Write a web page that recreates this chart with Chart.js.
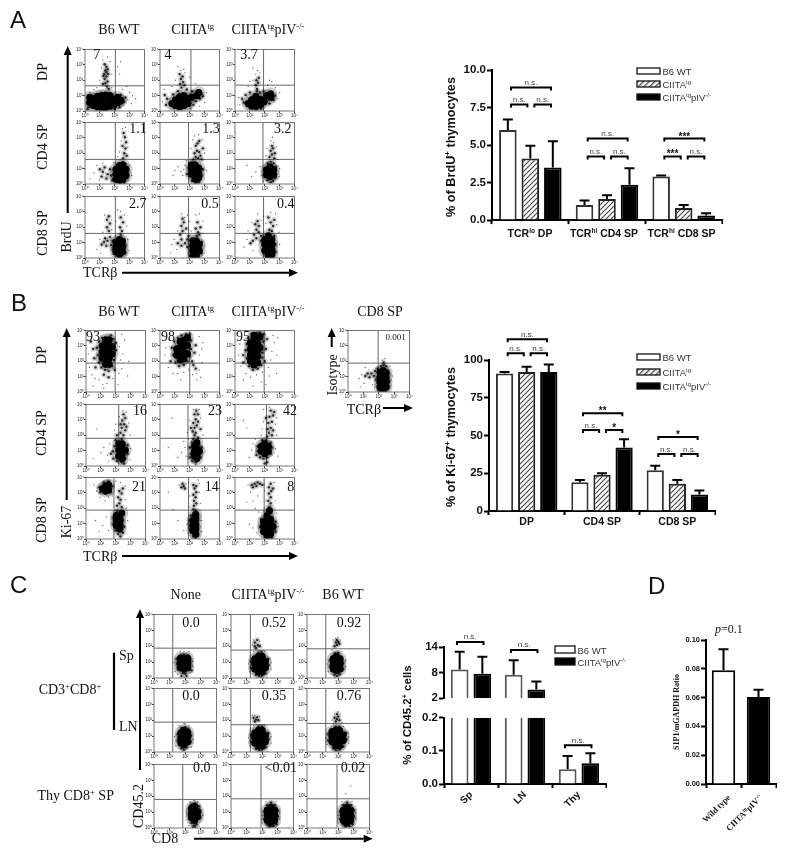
<!DOCTYPE html>
<html>
<head>
<meta charset="utf-8">
<script src="https://cdn.jsdelivr.net/npm/chart.js@4"></script>
<style>
html,body{margin:0;padding:0;background:#fff}
#fig{position:relative;width:786px;height:855px;overflow:hidden;filter:blur(.5px)}
#fig canvas{position:absolute}
#fig svg{position:absolute;left:0;top:0}
</style>
</head>
<body>
<div id="fig"></div>
<script>
// ---- bar chart values ----
const barSeries = ['B6 WT', 'CIITA{tg}', 'CIITA{tg}pIV{-/-}'];

const brduGroups = ['TCRlo DP', 'TCRhi CD4 SP', 'TCRhi CD8 SP'];
const brduWt = [6.0, 1.0, 2.9];
const brduTg = [4.1, 1.4, 0.8];
const brduKo = [3.5, 2.35, 0.3];
const brduWtErr = [6.7, 1.3, 2.97];
const brduTgErr = [4.95, 1.65, 1.0];
const brduKoErr = [5.25, 3.45, 0.45];
const brduTicks = [0, 2.5, 5, 7.5, 10];
const brduBrackets = [[0,'T',8.83,'n.s.'],[0,'L',7.7,'n.s.'],[0,'R',7.7,'n.s.'],
  [1,'T',5.43,'n.s.'],[1,'L',4.24,'n.s.'],[1,'R',4.24,'n.s.'],
  [2,'T',5.43,'***'],[2,'L',4.24,'***'],[2,'R',4.24,'n.s.']];

const kiGroups = ['DP', 'CD4 SP', 'CD8 SP'];
const kiWt = [91, 19, 27];
const kiTg = [92, 24, 18];
const kiKo = [92, 42, 11];
const kiWtErr = [92, 20.5, 30];
const kiTgErr = [95.5, 25, 20.5];
const kiKoErr = [97, 47.5, 13.5];
const kiTicks = [0, 25, 50, 75, 100];
const kiBrackets = [[0,'T',113.7,'n.s.'],[0,'L',104.4,'n.s.'],[0,'R',104.4,'n.s.'],
  [1,'T',64.7,'**'],[1,'L',53.6,'n.s.'],[1,'R',53.6,'*'],
  [2,'T',49,'*'],[2,'L',37.7,'n.s.'],[2,'R',37.7,'n.s.']];

const cdGroups = ['Sp', 'LN', 'Thy'];
const cdWt = [8.7, 7.5, 0.045];
const cdKo = [7.7, 4.0, 0.063];
const cdWtErr = [12.9, 10.9, 0.085];
const cdKoErr = [11.7, 5.9, 0.093];
const cdTicksHigh = [2, 8, 14];
const cdTicksLow = [0, 0.1, 0.2];
const cdBracketsHigh = [[0,'P',15.2,'n.s.'],[1,'P',13.3,'n.s.']];
const cdBracketsLow = [[2,'P',0.117,'n.s.']];

const s1pGroups = ['Wild type', 'CIITA{tg}pIV{-/-}'];
const s1pRatio = [0.079, 0.0605];
const s1pErr = [0.0935, 0.0655];
const s1pTicks = [0, 0.02, 0.04, 0.06, 0.08, 0.1];

// ---- flow plot events, estimated by eye on a 0-100 channel grid ----
const flowTicks = ['10⁰', '10¹', '10²', '10³', '10⁴'];

const a1Core=[[8,14],[8,22],[14,9],[14,20],[21,7],[21,15],[21,24],[28,6],[28,15],[28,25],[35,6],[35,15],[35,26],[42,8],[42,17],[42,25],[49,10],[49,19],[55,14],[55,22],[60,17]];
const a1Mid=[[33,52],[36,56],[32,60],[36,63],[39,60],[34,66],[38,68],[31,57],[36,72],[33,76],[38,48],[34,45],[37,40],[40,36],[30,44],[3,12],[5,24],[6,6],[62,12],[64,20],[66,15],[60,26],[68,22],[58,6],[4,3],[50,3],[32,2]];
const a1Dust=[[30,83],[38,88],[42,80],[28,70],[25,50],[45,60],[55,72],[60,80],[58,60],[70,40],[75,30],[72,18],[80,25],[78,12],[85,20],[63,35],[20,38],[15,35],[8,30],[45,38]];
const a2Core=[[20,12],[26,18],[26,9],[33,7],[33,15],[33,23],[40,9],[40,17],[40,25],[47,12],[47,20],[53,22],[62,25],[65,30]];
const a2Mid=[[36,38],[34,44],[39,47],[35,52],[38,56],[33,60],[41,42],[45,35],[10,10],[12,20],[8,26],[56,10],[60,16],[67,20],[70,28],[72,24],[30,32],[22,27],[54,32]];
const a2Dust=[[4,15],[7,35],[35,66],[40,68],[30,72],[42,62],[75,14],[78,30],[50,55],[60,45],[20,40],[26,50],[50,4],[30,2],[66,8]];
const a3Core=[[22,12],[28,8],[28,18],[35,8],[35,16],[35,24],[42,10],[42,19],[49,15],[53,25],[60,28],[60,22]];
const a3Mid=[[37,36],[35,42],[39,46],[36,50],[40,54],[37,32],[42,30],[15,14],[12,20],[18,26],[65,18],[67,25],[58,12],[25,30],[48,32],[44,4],[36,3]];
const a3Dust=[[35,60],[38,66],[42,62],[30,70],[72,20],[75,30],[8,10],[6,22],[55,42],[58,50],[25,48],[48,8],[30,50],[22,40],[68,38],[62,48]];
const a4Core=[[52,8],[52,16],[52,24],[58,6],[58,14],[58,22],[58,30],[64,8],[64,16],[64,24],[64,31],[69,14],[69,24]];
const a4Mid=[[28,12],[30,20],[33,27],[38,16],[42,24],[36,9],[25,24],[44,14],[46,6],[64,42],[66,50],[68,58],[63,62],[69,68],[67,76],[65,83],[70,46],[60,2],[66,2]];
const a4Dust=[[15,18],[20,30],[30,34],[63,90],[68,92],[72,60],[61,70],[75,30],[78,14],[8,8],[55,45],[48,35],[24,6],[72,6],[58,52]];
const a5Core=[[53,16],[53,24],[53,31],[59,8],[59,16],[59,24],[59,31],[65,10],[65,18],[65,26]];
const a5Mid=[[54,5],[60,2],[65,3],[56,40],[60,44],[64,42],[68,46],[58,50],[62,54],[66,52],[70,40],[72,58],[60,62],[63,66],[66,70],[70,14],[72,24],[48,26],[46,16]];
const a5Dust=[[25,22],[30,28],[35,20],[38,14],[42,30],[40,24],[58,78],[65,80],[71,72],[75,50],[78,22],[55,72],[52,58],[44,38],[22,14]];
const a6Core=[[53,15],[53,23],[59,12],[59,20],[59,28],[65,15],[65,23]];
const a6Mid=[[55,6],[60,3],[64,5],[50,12],[50,26],[68,10],[69,28],[55,34],[60,36],[65,34],[58,44],[62,48],[66,42],[60,54],[64,58],[67,50],[62,62]];
const a6Dust=[[35,20],[28,12],[42,28],[60,70],[65,68],[63,76],[70,60],[75,25],[74,12],[52,46],[45,14],[54,58],[20,30],[48,4],[72,40]];
const a7Core=[[52,10],[52,18],[52,26],[58,6],[58,14],[58,22],[58,30],[63,10],[63,18],[63,27]];
const a7Mid=[[56,2],[60,1],[68,8],[68,20],[47,14],[46,28],[44,21],[28,22],[32,26],[36,20],[38,28],[34,32],[42,34],[40,44],[37,50],[42,56],[37,62],[40,68],[60,38],[62,44],[59,50],[64,58],[60,66]];
const a7Dust=[[25,30],[30,42],[45,46],[33,70],[45,62],[52,60],[66,70],[60,76],[70,52],[72,30],[74,12],[20,14],[46,6],[26,8],[55,78]];
const a8Core=[[55,4],[55,12],[55,20],[55,28],[61,4],[61,12],[61,20],[61,28],[66,12],[66,22]];
const a8Mid=[[36,30],[34,38],[38,44],[36,52],[40,58],[38,64],[44,48],[30,24],[36,20],[42,24],[46,30],[46,18],[48,36],[62,36],[64,42],[66,38],[60,48],[68,50],[63,58],[70,8],[70,26],[58,1],[64,1]];
const a8Dust=[[28,14],[24,30],[30,44],[42,66],[46,70],[36,72],[60,70],[66,72],[72,40],[75,20],[20,22],[50,60],[52,44],[18,8],[72,60]];
const a9Core=[[50,12],[50,22],[50,30],[56,4],[56,12],[56,20],[56,28],[56,36],[62,6],[62,14],[62,22],[62,30]];
const a9Mid=[[30,28],[36,32],[32,38],[36,46],[40,42],[34,55],[38,60],[40,52],[44,36],[44,28],[26,24],[68,10],[68,22],[66,36],[62,44],[64,52],[58,46],[60,58],[66,62],[56,66],[58,1],[64,1]];
const a9Dust=[[20,30],[22,44],[28,58],[38,72],[44,62],[48,68],[68,72],[60,74],[74,42],[75,22],[15,18],[52,56],[70,54],[46,12],[30,12]];

const b1Core=[[27,55],[27,65],[27,75],[33,45],[33,55],[33,65],[33,75],[33,85],[39,45],[39,55],[39,65],[39,75],[39,85],[44,62],[44,74]];
const b1Mid=[[20,60],[18,72],[22,48],[26,40],[32,36],[38,34],[44,42],[47,52],[22,82],[27,88],[14,55],[16,40],[42,92],[46,86],[50,68],[50,80],[30,28],[38,24],[48,36],[12,70],[8,82]];
const b1Dust=[[4,62],[6,40],[10,28],[15,22],[22,20],[28,12],[35,14],[45,22],[55,30],[60,38],[58,52],[62,62],[56,74],[65,85],[60,94],[72,50],[70,26],[30,6],[12,10],[54,12]];
const b2Core=[[28,60],[28,70],[34,52],[34,62],[34,72],[34,82],[40,54],[40,64],[40,74],[40,84],[46,62],[46,76],[46,88]];
const b2Mid=[[22,60],[20,72],[24,82],[30,88],[26,48],[32,42],[40,44],[46,50],[50,58],[52,70],[52,84],[36,92],[44,94],[50,94],[54,50],[58,64],[60,76],[56,44],[60,38],[18,50]];
const b2Dust=[[10,72],[8,60],[14,40],[22,30],[30,30],[40,32],[48,36],[62,30],[66,36],[68,24],[62,20],[70,48],[66,60],[70,70],[72,80],[66,90],[55,28],[35,20],[15,85],[6,92]];
const b3Core=[[26,50],[26,60],[26,70],[26,80],[32,44],[32,54],[32,64],[32,74],[32,84],[32,92],[38,48],[38,58],[38,68],[38,78],[38,88],[42,72],[42,90]];
const b3Mid=[[20,55],[18,68],[20,78],[22,88],[24,42],[30,36],[38,38],[44,44],[46,56],[46,64],[48,82],[48,94],[36,96],[42,97],[28,95],[14,60],[14,48],[52,70],[54,86],[50,50]];
const b3Dust=[[8,78],[6,60],[10,42],[18,30],[26,24],[36,28],[46,32],[56,40],[60,52],[62,66],[66,80],[64,92],[70,60],[58,26],[70,30],[30,10],[44,16],[14,20],[72,88],[52,12]];
const b4Core=[[55,16],[55,26],[55,36],[61,12],[61,20],[61,28],[61,36],[66,26]];
const b4Mid=[[60,44],[63,50],[58,54],[66,58],[60,62],[64,68],[61,74],[66,78],[63,84],[68,64],[58,68],[45,24],[48,32],[42,20],[46,12],[50,42],[60,6],[64,4],[66,12],[70,20],[70,34],[52,50],[52,8]];
const b4Dust=[[30,30],[36,18],[40,36],[25,22],[62,90],[68,88],[72,70],[56,80],[74,50],[75,28],[74,10],[48,58],[12,12],[18,60],[50,68],[38,8]];
const b5Core=[[58,16],[58,24],[58,32],[62,12],[62,20],[62,28],[62,38],[66,24]];
const b5Mid=[[52,20],[50,30],[54,38],[56,44],[58,50],[55,56],[60,54],[58,62],[62,66],[56,70],[60,76],[64,72],[58,84],[64,84],[61,90],[68,60],[50,14],[54,8],[60,6],[68,14],[70,30],[64,46],[52,62]];
const b5Dust=[[36,22],[42,30],[44,16],[48,44],[50,74],[68,78],[72,50],[72,22],[66,92],[56,92],[30,14],[20,78],[14,30],[46,54],[60,2],[40,40]];
const b6Core=[[44,24],[44,32],[50,20],[50,28],[50,36],[56,24],[56,32]];
const b6Mid=[[38,24],[38,32],[36,18],[42,14],[48,12],[54,14],[60,20],[62,30],[60,38],[52,42],[46,42],[54,48],[57,54],[62,50],[55,60],[60,62],[64,58],[56,70],[62,72],[58,80],[64,82],[60,90],[66,88],[52,78],[50,4],[54,6]];
const b6Dust=[[28,26],[30,36],[34,44],[24,14],[44,50],[46,60],[48,72],[68,68],[70,78],[70,50],[68,28],[72,16],[58,96],[48,92],[20,62],[14,74]];
const b7Core=[[28,82],[33,78],[33,86],[38,80],[38,88],[51,22],[51,30],[51,38],[57,16],[57,24],[57,32],[60,42]];
const b7Mid=[[22,84],[24,76],[42,76],[44,86],[30,92],[38,94],[52,54],[56,58],[60,52],[58,64],[54,68],[60,74],[56,78],[62,82],[52,46],[62,30],[64,20],[50,14],[54,8],[58,4],[62,10],[46,24],[46,34]];
const b7Dust=[[14,88],[18,78],[24,68],[32,62],[38,68],[44,70],[66,64],[68,50],[70,30],[16,30],[28,22],[34,36],[38,14],[22,12],[58,92],[50,94],[66,86]];
const b8Core=[[55,14],[55,22],[55,30],[60,8],[60,16],[60,24],[60,34],[60,40]];
const b8Mid=[[40,86],[38,90],[42,82],[36,84],[56,48],[60,46],[57,54],[61,58],[57,62],[60,68],[56,72],[61,76],[58,82],[61,86],[56,88],[52,20],[50,30],[64,20],[64,30],[56,4],[60,2],[64,6],[52,38]];
const b8Dust=[[32,88],[44,90],[48,92],[66,90],[66,76],[68,58],[50,70],[50,52],[70,30],[70,12],[46,24],[40,14],[30,30],[22,48],[14,76],[64,96]];
const b9Core=[[48,12],[48,20],[48,28],[54,6],[54,14],[54,22],[54,30],[54,38],[60,8],[60,16],[60,24],[60,32],[64,20],[58,46]];
const b9Mid=[[28,88],[33,90],[38,92],[36,86],[42,90],[30,84],[46,88],[58,52],[60,58],[56,62],[60,68],[57,74],[61,78],[57,84],[60,90],[64,82],[52,3],[56,1],[62,2],[42,20],[44,32],[68,12],[68,28]];
const b9Dust=[[22,88],[26,76],[30,62],[34,50],[38,70],[40,44],[66,92],[68,62],[70,42],[30,18],[24,24],[36,10],[72,20],[52,62],[50,78],[20,60]];
const isoCore=[[52,8],[52,16],[52,24],[52,32],[57,3],[57,11],[57,19],[57,27],[57,35],[62,8],[62,16],[62,24],[62,32]];
const isoMid=[[42,26],[38,30],[35,24],[44,34],[46,20],[32,30],[28,26],[48,38],[54,42],[58,44],[62,42],[66,30],[67,18],[66,8],[50,4],[58,48],[54,1],[60,1]];
const isoDust=[[22,28],[18,22],[26,14],[34,36],[40,12],[60,54],[56,52],[68,42],[72,26],[20,8],[44,8],[28,40]];

const c1Core=[[42,16],[42,24],[42,31],[48,14],[48,22],[48,30],[54,16],[54,24],[54,31]];
const c1Mid=[[37,22],[36,30],[38,14],[46,8],[50,7],[44,3],[52,3],[58,20],[58,28],[48,37],[43,36],[54,36],[60,12]];
const c1Dust=[[32,24],[34,10],[62,26],[62,18],[48,42],[42,42],[56,42],[38,6],[58,8],[48,1]];
const c2Core=[[38,14],[38,22],[38,30],[44,10],[44,18],[44,26],[44,34],[50,10],[50,18],[50,26],[50,34],[55,16],[55,26]];
const c2Mid=[[40,5],[45,3],[50,4],[55,7],[32,16],[32,26],[60,20],[60,30],[44,40],[49,41],[40,47],[43,52],[38,56],[42,60],[46,50],[38,50]];
const c2Dust=[[28,22],[30,10],[64,24],[64,14],[54,42],[36,42],[36,60],[46,58],[34,52],[48,1],[58,1]];
const c3Core=[[42,14],[42,22],[42,30],[47,12],[47,20],[47,28],[47,34],[53,14],[53,22],[53,30]];
const c3Mid=[[37,18],[37,28],[44,5],[48,3],[52,6],[58,14],[58,24],[45,39],[50,40],[48,52],[50,57],[46,56],[52,54],[44,50],[48,60]];
const c3Dust=[[32,22],[34,10],[62,18],[62,28],[40,44],[56,42],[42,60],[54,60],[50,64],[46,62],[44,1]];
const c4Core=[[43,14],[43,22],[43,30],[48,12],[48,20],[48,28],[48,34],[54,16],[54,24],[54,31]];
const c4Mid=[[38,18],[38,28],[44,6],[48,4],[52,7],[59,16],[59,26],[44,38],[50,39],[55,36]];
const c4Dust=[[33,24],[35,10],[63,20],[40,42],[56,42],[50,44],[46,1],[60,8],[48,45]];
const c5Core=[[38,14],[38,22],[38,30],[44,10],[44,18],[44,26],[44,34],[50,10],[50,18],[50,26],[50,34],[55,16],[55,26]];
const c5Mid=[[40,5],[45,3],[50,4],[55,7],[32,16],[32,26],[60,20],[60,30],[44,40],[50,40],[40,51],[42,55],[38,48],[44,50],[36,54]];
const c5Dust=[[28,22],[30,10],[64,24],[64,14],[54,42],[36,42],[46,56],[34,58],[48,1],[58,1],[38,58]];
const c6Core=[[40,16],[40,24],[40,32],[46,10],[46,18],[46,26],[46,34],[52,10],[52,18],[52,26],[52,34],[58,18],[58,27]];
const c6Mid=[[34,18],[34,28],[42,6],[46,3],[52,4],[58,8],[63,20],[63,30],[46,40],[52,40],[48,52],[50,56],[46,48],[52,50],[48,60],[44,54]];
const c6Dust=[[30,22],[32,12],[67,24],[67,14],[42,44],[58,40],[44,60],[54,60],[50,63],[56,46],[40,50],[48,1]];
const c7Core=[[60,16],[60,24],[60,31],[65,12],[65,20],[65,28],[65,34],[70,18],[70,26]];
const c7Mid=[[56,20],[56,30],[60,8],[64,4],[68,6],[62,1],[66,1],[74,16],[74,26],[60,37],[66,39],[72,34]];
const c7Dust=[[52,24],[54,14],[78,20],[58,42],[70,41],[72,3],[56,4],[64,43]];
const c8Core=[[58,12],[58,20],[58,28],[64,8],[64,16],[64,24],[64,33],[70,12],[70,20],[70,28]];
const c8Mid=[[53,14],[53,26],[58,6],[62,2],[68,3],[73,6],[75,18],[75,28],[58,36],[64,40],[70,36]];
const c8Dust=[[50,20],[78,14],[78,24],[56,42],[72,42],[60,1],[72,1],[50,8]];
const c9Core=[[58,12],[58,20],[58,28],[64,8],[64,16],[64,24],[64,33],[70,12],[70,20],[70,28]];
const c9Mid=[[53,14],[53,26],[58,6],[62,2],[68,3],[73,6],[75,18],[75,28],[58,36],[64,40],[70,36]];
const c9Dust=[[50,20],[78,14],[78,24],[56,42],[72,42],[60,1],[72,1],[50,8],[62,54],[70,66]];

// gate lines [vertical, horizontal]
const gatesA = [[51,41],[52,42],[48,42],[51,40],[48,40],[47,40],[51,40],[48,40],[48,40]];
const gatesB = [[49,47],[50,47],[49,47],[55,45],[47,45],[53,45],[47,47],[48,47],[49,47]];
const gateIso = [49,47];
const gatesC = [[30,47],[31,44],[30,46],[30,47],[31,43],[30,45],[46,45],[48,46],[48,46]];

// ---- helpers ----
Chart.defaults.animation = false;
Chart.defaults.responsive = false;
const fig = document.getElementById('fig');
const SERIF = '"Liberation Serif"', SANS = '"Liberation Sans"';

function addCanvas(left, top, w, h) {
  const c = document.createElement('canvas');
  c.width = w; c.height = h;
  c.style.left = left + 'px'; c.style.top = top + 'px';
  fig.appendChild(c);
  return c;
}

const frame = {
  id: 'frame',
  afterDatasetsDraw(chart) {
    const a = chart.chartArea, g = chart.ctx;
    g.save();
    g.strokeStyle = '#777'; g.lineWidth = 1;
    g.strokeRect(a.left, a.top, a.right - a.left, a.bottom - a.top);
    g.restore();
  }
};

function flow(left, top, w, h, core, mid, dust, gate) {
  const mx = 10, mb = 8, pad = 3;
  const cv = addCanvas(left - mx, top - pad, w + mx + pad, h + mb + pad);
  const axis = {
    type: 'linear', min: 0, max: 100,
    grid: { drawOnChartArea: false, tickLength: 2, tickColor: '#333', tickWidth: 1 },
    border: { display: false },
    ticks: { stepSize: 25, padding: 0, autoSkip: false, maxRotation: 0, color: '#222',
      font: { size: 4.5, family: SANS }, callback: v => flowTicks[v / 25] }
  };
  new Chart(cv, {
    type: 'scatter',
    data: { datasets: [
      { data: dust, pointRadius: .7, backgroundColor: 'rgba(0,0,0,.6)', borderWidth: 0 },
      { data: mid, pointRadius: 1.2, backgroundColor: 'rgba(0,0,0,.8)', borderWidth: 0 },
      { data: core, pointRadius: 3.6, backgroundColor: '#000', borderWidth: 0 },
      { data: core, pointRadius: 6.5, backgroundColor: 'rgba(0,0,0,.2)', borderWidth: 0 },
      { data: mid, pointRadius: 2.8, backgroundColor: 'rgba(0,0,0,.16)', borderWidth: 0 },
      { data: [[gate[0], 0], [gate[0], 100]], showLine: true, pointRadius: 0, borderColor: '#666', borderWidth: 1 },
      { data: [[0, gate[1]], [100, gate[1]]], showLine: true, pointRadius: 0, borderColor: '#666', borderWidth: 1 }
    ] },
    options: {
      layout: { padding: { top: pad, right: pad } },
      plugins: { legend: { display: false }, tooltip: { enabled: false } },
      scales: {
        // drop the extra room the axes ask for around their end labels
        x: { ...axis, afterFit: s => { s.height = mb; s.paddingLeft = 0; s.paddingRight = 0; } },
        y: { ...axis, afterFit: s => { s.width = mx; s.paddingTop = 0; s.paddingBottom = 0; } }
      }
    },
    plugins: [frame]
  });
}

function makeHatch() {
  const p = document.createElement('canvas');
  p.width = 5; p.height = 5;
  const g = p.getContext('2d');
  g.fillStyle = '#fff'; g.fillRect(0, 0, 5, 5);
  g.strokeStyle = '#444'; g.lineWidth = 1.1;
  g.beginPath();
  g.moveTo(-1, 6); g.lineTo(6, -1);
  g.moveTo(-1, 1); g.lineTo(1, -1);
  g.moveTo(4, 6); g.lineTo(6, 4);
  g.stroke();
  return g.createPattern(p, 'repeat');
}
const hatch = makeHatch();

const errorBars = {
  id: 'errorBars',
  afterDatasetsDraw(chart) {
    const g = chart.ctx, y = chart.scales.y;
    g.save();
    g.strokeStyle = '#000'; g.lineWidth = 2;
    chart.data.datasets.forEach((ds, i) => {
      chart.getDatasetMeta(i).data.forEach((bar, k) => {
        const e = ds.errTop[k], v = ds.data[k];
        if (v == null || e > y.max || e < y.min) return;
        const top = y.getPixelForValue(e);
        const base = y.getPixelForValue(Math.min(v, y.max));
        g.beginPath();
        g.moveTo(bar.x, base); g.lineTo(bar.x, top);
        g.moveTo(bar.x - 5, top); g.lineTo(bar.x + 5, top);
        g.stroke();
      });
    });
    g.restore();
  }
};

const SPANS = { L: [.14, .87], R: [1.18, 1.92], T: [.14, 1.92], P: [-.12, 1.05] };
function bracketPlugin(list) {
  return {
    id: 'brackets',
    afterDraw(chart) {
      const g = chart.ctx, m0 = chart.getDatasetMeta(0), m1 = chart.getDatasetMeta(1);
      g.save();
      g.strokeStyle = '#000'; g.lineWidth = 2; g.textAlign = 'center';
      list.forEach(([grp, span, val, txt]) => {
        const c0 = m0.data[grp].x, s = m1.data[grp].x - c0;
        const x1 = c0 + SPANS[span][0] * s, x2 = c0 + SPANS[span][1] * s;
        const y = chart.scales.y.getPixelForValue(val);
        g.beginPath();
        g.moveTo(x1, y + 3); g.lineTo(x1, y); g.lineTo(x2, y); g.lineTo(x2, y + 3);
        g.stroke();
        const stars = txt.includes('*');
        g.fillStyle = stars ? '#111' : '#444';
        g.font = (stars ? 'bold 10px ' : '8px ') + SANS;
        g.fillText(txt, (x1 + x2) / 2, stars ? y + 1 : y - 2.5);
      });
      g.restore();
    }
  };
}

function barChart(o) {
  const cv = addCanvas(o.axisX - o.mLeft, o.top - o.pad, o.right - o.axisX + o.mLeft + 1, o.bottom - o.top + o.pad + o.mBottom + 1);
  const plugins = [errorBars];
  if (o.brackets) plugins.push(bracketPlugin(o.brackets));
  new Chart(cv, {
    type: 'bar',
    data: { labels: o.labels, datasets: o.datasets.map(d => ({
      borderColor: '#000', borderWidth: 2, borderSkipped: 'bottom',
      categoryPercentage: o.cat, barPercentage: o.bar, ...d })) },
    options: {
      layout: { padding: { top: o.pad, right: 1, bottom: 1 } },
      plugins: { legend: { display: false }, tooltip: { enabled: false } },
      scales: {
        x: {
          display: o.xDisplay !== false,
          grid: { drawOnChartArea: false, tickLength: 4, tickWidth: 2, tickColor: '#000' },
          border: { width: 2, color: '#000' },
          ticks: { display: !!o.xFont, color: '#111', font: o.xFont, padding: 1,
            minRotation: o.xRot || 0, maxRotation: o.xRot || 0 },
          afterFit: s => { s.height = o.mBottom; }
        },
        y: {
          min: o.min, max: o.max,
          grid: { drawOnChartArea: false, tickLength: 5, tickWidth: 2, tickColor: '#000' },
          border: { width: 2, color: '#000' },
          afterBuildTicks: s => { s.ticks = o.ticks.map(value => ({ value })); },
          ticks: { color: '#111', padding: 1, font: o.yFont, callback: o.fmt },
          afterFit: s => { s.width = o.mLeft; }
        }
      }
    },
    plugins
  });
}

// ---- flow grids ----
const colsA = [85, 160, 235], rowsA = [46, 119, 193];
const colsB = [86, 160, 235], rowsB = [327, 401, 474];
const colsC = [154, 231, 307], rowsC = [611, 685, 761];
const flowA = [[a1Core,a1Mid,a1Dust],[a2Core,a2Mid,a2Dust],[a3Core,a3Mid,a3Dust],[a4Core,a4Mid,a4Dust],[a5Core,a5Mid,a5Dust],[a6Core,a6Mid,a6Dust],[a7Core,a7Mid,a7Dust],[a8Core,a8Mid,a8Dust],[a9Core,a9Mid,a9Dust]];
const flowB = [[b1Core,b1Mid,b1Dust],[b2Core,b2Mid,b2Dust],[b3Core,b3Mid,b3Dust],[b4Core,b4Mid,b4Dust],[b5Core,b5Mid,b5Dust],[b6Core,b6Mid,b6Dust],[b7Core,b7Mid,b7Dust],[b8Core,b8Mid,b8Dust],[b9Core,b9Mid,b9Dust]];
const flowC = [[c1Core,c1Mid,c1Dust],[c2Core,c2Mid,c2Dust],[c3Core,c3Mid,c3Dust],[c4Core,c4Mid,c4Dust],[c5Core,c5Mid,c5Dust],[c6Core,c6Mid,c6Dust],[c7Core,c7Mid,c7Dust],[c8Core,c8Mid,c8Dust],[c9Core,c9Mid,c9Dust]];

function grid(cols, rows, w, h, sets, gates) {
  sets.forEach((s, i) => flow(cols[i % 3], rows[Math.floor(i / 3)], w, h, s[0], s[1], s[2], gates[i]));
}
grid(colsA, rowsA, 63, 65, flowA, gatesA);
grid(colsB, rowsB, 63, 65, flowB, gatesB);
flow(348, 327, 65, 65, isoCore, isoMid, isoDust, gateIso);
grid(colsC, rowsC, 66, 67, flowC, gatesC);

// ---- bar charts ----
const boldTick = { size: 11.5, weight: 'bold', family: SANS };
function triple(wt, tg, ko, wtE, tgE, koE) {
  return [
    { data: wt, errTop: wtE, backgroundColor: '#fff', borderColor: '#333' },
    { data: tg, errTop: tgE, backgroundColor: hatch, borderColor: '#222' },
    { data: ko, errTop: koE, backgroundColor: '#000' }
  ];
}
barChart({ axisX: 492, right: 722, top: 70, bottom: 221.7, pad: 8, mLeft: 34, mBottom: 6,
  labels: brduGroups, datasets: triple(brduWt, brduTg, brduKo, brduWtErr, brduTgErr, brduKoErr),
  cat: .88, bar: .78, min: 0, max: 10, ticks: brduTicks, fmt: v => v.toFixed(1), yFont: boldTick,
  brackets: brduBrackets });
barChart({ axisX: 489, right: 715, top: 360, bottom: 511, pad: 35, mLeft: 30, mBottom: 20,
  labels: kiGroups, datasets: triple(kiWt, kiTg, kiKo, kiWtErr, kiTgErr, kiKoErr),
  cat: .88, bar: .78, min: 0, max: 100, ticks: kiTicks, fmt: v => v, yFont: boldTick,
  xFont: { size: 10.5, weight: 'bold', family: SANS }, brackets: kiBrackets });
// axis of panel C is broken in two, so two charts sit on top of each other
const cdHigh = a => a.map(v => v >= 2 ? v : null);
barChart({ axisX: 444, right: 606, top: 646.7, bottom: 705.3, pad: 14, mLeft: 30, mBottom: 0, xDisplay: false,
  labels: cdGroups, datasets: [
    { data: cdHigh(cdWt), errTop: cdWtErr, backgroundColor: '#fff', borderColor: '#555' },
    { data: cdHigh(cdKo), errTop: cdKoErr, backgroundColor: '#000' }],
  cat: .84, bar: .78, min: 2, max: 14, ticks: cdTicksHigh, fmt: v => v, yFont: boldTick,
  brackets: cdBracketsHigh });
barChart({ axisX: 444, right: 606, top: 715, bottom: 784.3, pad: 5, mLeft: 30, mBottom: 32, xRot: 45,
  labels: cdGroups, datasets: [
    { data: cdWt, errTop: cdWtErr, backgroundColor: '#fff', borderColor: '#555' },
    { data: cdKo, errTop: cdKoErr, backgroundColor: '#000' }],
  cat: .84, bar: .78, min: 0, max: .2, ticks: cdTicksLow, fmt: v => v.toFixed(1), yFont: boldTick,
  xFont: { size: 10, weight: 'bold', family: SANS }, brackets: cdBracketsLow });
barChart({ axisX: 706, right: 776, top: 640, bottom: 784, pad: 8, mLeft: 27, mBottom: 6,
  labels: s1pGroups, datasets: [
    { data: s1pRatio, errTop: s1pErr, backgroundColor: ['#fff', '#000'] }],
  cat: .67, bar: 1, min: 0, max: .1, ticks: s1pTicks, fmt: v => v.toFixed(2),
  yFont: { size: 7.5, weight: 'bold', family: SANS } });

// ---- overlay: labels, arrows, legends ----
const NS = 'http://www.w3.org/2000/svg';
const svg = document.createElementNS(NS, 'svg');
svg.setAttribute('width', 786); svg.setAttribute('height', 855);
const defs = document.createElementNS(NS, 'defs');
defs.innerHTML = '<pattern id="hp" width="4" height="4" patternUnits="userSpaceOnUse" patternTransform="rotate(45)"><rect width="4" height="4" fill="#fff"/><rect width="1.3" height="4" fill="#444"/></pattern>';
svg.appendChild(defs);
fig.appendChild(svg);

function put(tag, attrs) {
  const el = document.createElementNS(NS, tag);
  for (const k in attrs) el.setAttribute(k, attrs[k]);
  svg.appendChild(el);
  return el;
}
// {..} in a string is a superscript
function text(x, y, str, o = {}) {
  const size = o.size || 14;
  const el = put('text', { x, y, 'font-family': o.font || SERIF, 'font-size': size,
    'font-weight': o.weight || 'normal', 'font-style': o.style || 'normal',
    'text-anchor': o.anchor || 'middle', fill: o.fill || '#111' });
  if (o.rot) el.setAttribute('transform', `rotate(${o.rot} ${x} ${y})`);
  let back = 0;
  str.split(/(\{[^}]*\})/).filter(Boolean).forEach(part => {
    const span = document.createElementNS(NS, 'tspan');
    if (part[0] === '{') {
      span.textContent = part.slice(1, -1);
      span.setAttribute('dy', -size * .38);
      span.setAttribute('font-size', size * .62);
      back = size * .38;
    } else {
      span.textContent = part;
      if (back) span.setAttribute('dy', back);
      back = 0;
    }
    el.appendChild(span);
  });
}
function arrow(x1, y1, x2, y2) {
  const horiz = y1 === y2, s = Math.sign(horiz ? x2 - x1 : y2 - y1), L = 9, W = 4;
  put('line', { x1, y1, x2: horiz ? x2 - s * L : x2, y2: horiz ? y2 : y2 - s * L, stroke: '#000', 'stroke-width': 2 });
  const pts = horiz
    ? `${x2},${y2} ${x2 - s * L},${y2 - W} ${x2 - s * L},${y2 + W}`
    : `${x2},${y2} ${x2 - W},${y2 - s * L} ${x2 + W},${y2 - s * L}`;
  put('polygon', { points: pts, fill: '#000' });
}
function legend(x, ys, names, fills, w, h) {
  names.forEach((n, i) => {
    put('rect', { x, y: ys[i], width: w, height: h, fill: fills[i], stroke: '#111', 'stroke-width': 1.3 });
    text(x + w + 2.5, ys[i] + h + 1, n, { font: SANS, size: 9.5, anchor: 'start', fill: '#333' });
  });
}
const wtFill = '#fff', tgFill = 'url(#hp)', koFill = '#000';

// panel letters
[['A', 10, 28], ['B', 11, 311], ['C', 10, 593], ['D', 648, 594]].forEach(l =>
  text(l[1], l[2], l[0], { font: SANS, size: 24, anchor: 'start', fill: '#111' }));

// panel A labels
['B6 WT', 'CIITA{tg}', 'CIITA{tg}pIV{-/-}'].forEach((s, i) => {
  text([119, 192.7, 268][i], 34, s);
  text([119, 192.7, 268][i], 316, s);
});
text(47, 72, 'DP', { rot: -90 }); text(47, 147, 'CD4 SP', { rot: -90 }); text(47, 233, 'CD8 SP', { rot: -90 });
text(71, 237, 'BrdU', { rot: -90 });
text(83, 277, 'TCRβ', { anchor: 'start' });
arrow(122, 272.7, 298, 272.7);
arrow(67.7, 213, 67.7, 46);
[['7',96.7,59],['4',168,59],['3.7',249,59],['1.1',138,133],['1.3',211,133],['3.2',282.7,133],['2.7',137.7,208],['0.5',210,208],['0.4',285.7,208]]
  .forEach(n => text(n[1], n[2], n[0]));

// panel B labels
text(46, 355, 'DP', { rot: -90 }); text(46, 433, 'CD4 SP', { rot: -90 }); text(46, 520, 'CD8 SP', { rot: -90 });
text(71, 522, 'Ki-67', { rot: -90 });
text(83, 561, 'TCRβ', { anchor: 'start' });
arrow(122, 556, 298, 556);
arrow(66.7, 500, 66.7, 328);
[['93',93,341],['98',168,341],['95',243,341],['16',140,415],['23',215,415],['42',290,415],['21',139,491],['14',211.7,491],['8',290.7,491]]
  .forEach(n => text(n[1], n[2], n[0]));
text(380, 316, 'CD8 SP');
text(395.7, 340, '0.001', { size: 9 });
text(337, 375, 'Isotype', { rot: -90 });
arrow(331.7, 347, 331.7, 328);
text(346.7, 414, 'TCRβ', { anchor: 'start' });
arrow(383, 408, 413, 408);

// panel C labels
text(185.7, 599, 'None'); text(268, 599, 'CIITA{tg}pIV{-/-}'); text(343, 599, 'B6 WT');
[['0.0',191,627],['0.52',274,627],['0.92',349,627],['0.0',191,700],['0.35',274,700],['0.76',349,700],['0.0',201.7,772],['<0.01',280.7,772],['0.02',353,772]]
  .forEach(n => text(n[1], n[2], n[0]));
text(70, 694, 'CD3{+}CD8{+}');
put('line', { x1: 114, y1: 652.7, x2: 114, y2: 730, stroke: '#000', 'stroke-width': 2.2 });
text(119, 660, 'Sp', { anchor: 'start' }); text(119, 731, 'LN', { anchor: 'start' });
arrow(140, 770, 140, 609);
text(75.7, 800, 'Thy CD8{+} SP');
text(143, 806, 'CD45.2', { rot: -90 });
text(151.7, 843, 'CD8', { anchor: 'start' });
arrow(194, 838.7, 372.7, 838.7);

// bar chart titles and labels
const axisTitle = { font: SANS, size: 12.7, weight: 'bold', rot: -90 };
text(455, 147, '% of BrdU{+} thymocytes', axisTitle);
text(455, 437, '% of Ki-67{+} thymocytes', axisTitle);
text(411, 715, '% of CD45.2{+} cells', { ...axisTitle, size: 11.5 });
const brduX = { font: SANS, size: 10.5, weight: 'bold' };
text(530, 237, 'TCR{lo} DP', brduX);
text(604, 237, 'TCR{hi} CD4 SP', brduX);
text(681.5, 237, 'TCR{hi} CD8 SP', brduX);
text(679, 712, 'S1P1/mGAPDH Ratio', { size: 8, weight: 'bold', rot: -90 });
text(721, 633, 'p', { size: 12, style: 'italic', anchor: 'end' });
text(721, 633, '=0.1', { size: 12, anchor: 'start' });
const s1pX = { size: 8.5, weight: 'bold', anchor: 'end', rot: -45 };
text(731, 798, s1pGroups[0], s1pX);
text(763, 798, s1pGroups[1], s1pX);

legend(637, [68, 81, 94], barSeries, [wtFill, tgFill, koFill], 23, 6);
legend(637, [354, 369, 383], barSeries, [wtFill, tgFill, koFill], 23, 6);
legend(555, [646, 658], [barSeries[0], barSeries[2]], [wtFill, koFill], 20, 7);
</script>
</body>
</html>
